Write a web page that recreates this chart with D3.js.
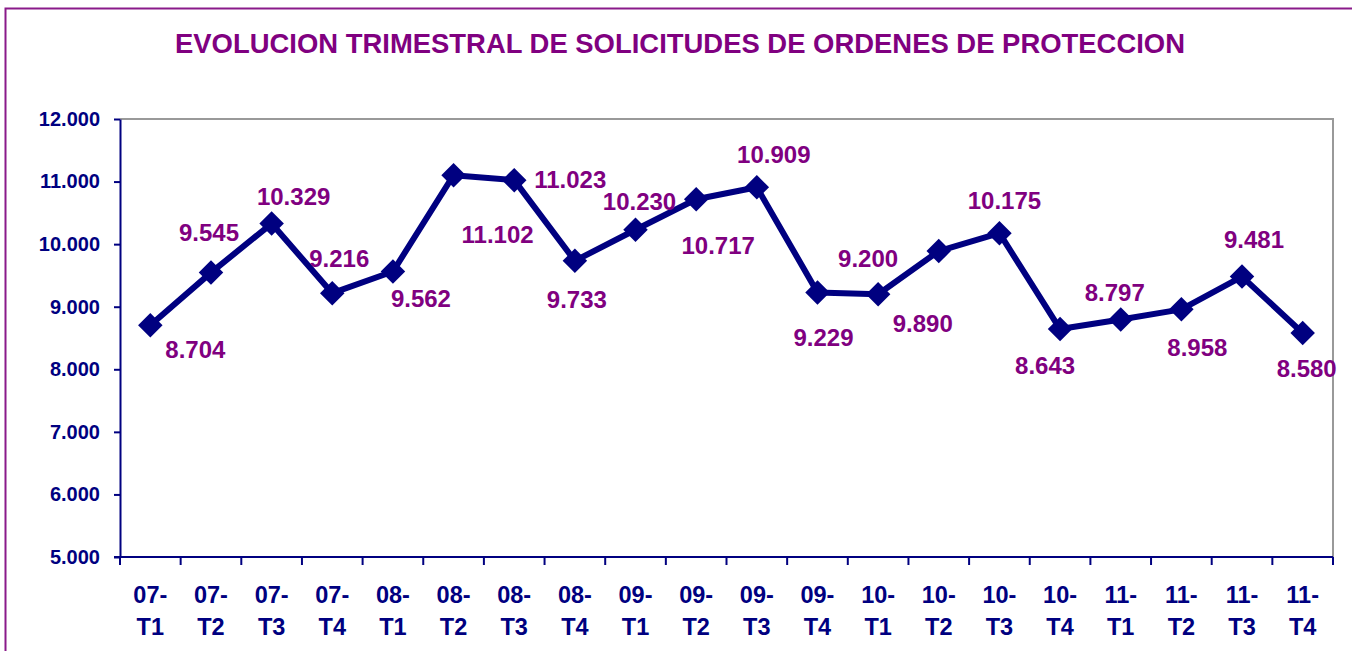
<!DOCTYPE html>
<html>
<head>
<meta charset="utf-8">
<script src="https://cdn.jsdelivr.net/npm/d3@7"></script>
<style>
  html, body { margin: 0; padding: 0; background: #ffffff; }
  svg { display: block; font-family: "Liberation Sans", Arial, sans-serif; }
</style>
</head>
<body>
<svg id="chart" width="1352" height="651"></svg>
<script>
// ---- data ----
const title = "EVOLUCION TRIMESTRAL DE SOLICITUDES DE ORDENES DE PROTECCION";
const yearLabels = ["07-","07-","07-","07-","08-","08-","08-","08-","09-","09-","09-","09-","10-","10-","10-","10-","11-","11-","11-","11-"];
const quarterLabels = ["T1","T2","T3","T4","T1","T2","T3","T4","T1","T2","T3","T4","T1","T2","T3","T4","T1","T2","T3","T4"];
const categories = yearLabels.map((y, i) => y + quarterLabels[i]);
const values = [8704, 9545, 10329, 9216, 9562, 11102, 11023, 9733, 10230, 10717, 10909, 9229, 9200, 9890, 10175, 8643, 8797, 8958, 9481, 8580];
const yTicks = [5000, 6000, 7000, 8000, 9000, 10000, 11000, 12000];

// ---- layout (label placement offsets, px, as in the original chart) ----
const labelDx = [45, -2, 22, 7, 28, 44, 56, 2, 4, 22, 17, 6, -10, -16, 5, -15, -6, 16, 12, 4];
const labelDy = [33, -32, -19, -26, 35, 68, 8, 47, -20, 55, -24, 54, -27, 81, -24, 45, -18, 47, -29, 44];

const navy = "#000080";
const purple = "#800080";
const svg = d3.select("#chart");

// outer border (extends beyond the visible page)
svg.append("rect")
  .attr("x", 5.5).attr("y", 8.5).attr("width", 1400).attr("height", 700)
  .attr("fill", "none").attr("stroke", "#8a1a8a").attr("stroke-width", 2);

// title
svg.append("text")
  .attr("x", 680).attr("y", 53)
  .attr("text-anchor", "middle")
  .attr("font-size", 28).attr("font-weight", "bold")
  .attr("fill", purple)
  .attr("textLength", 1010).attr("lengthAdjust", "spacingAndGlyphs")
  .text(title);

const pLeft = 120, pRight = 1333, pTop = 119, pBottom = 557;

const x = d3.scaleBand().domain(categories).range([pLeft, pRight]).padding(0);
const y = d3.scaleLinear().domain([5000, 12000]).range([pBottom, pTop]);

const loc = d3.formatLocale({ decimal: ",", thousands: ".", grouping: [3], currency: ["", ""] });
const fmt = loc.format(",");

// plot area border (top and right, gray)
svg.append("path")
  .attr("d", `M${pLeft},${pTop}H${pRight}V${pBottom}`)
  .attr("fill", "none").attr("stroke", "#999999").attr("stroke-width", 2);

// y axis
const yAxis = svg.append("g")
  .attr("transform", `translate(${pLeft},0)`)
  .call(d3.axisLeft(y).tickValues(yTicks).tickFormat(fmt).tickSize(6).tickPadding(14).tickSizeOuter(0));
yAxis.select(".domain").attr("stroke", navy).attr("stroke-width", 2);
yAxis.selectAll(".tick line").attr("stroke", navy).attr("stroke-width", 2);
yAxis.selectAll(".tick text")
  .attr("fill", navy).attr("font-size", 20).attr("font-weight", "bold")
  .attr("font-family", "'Liberation Sans', Arial, sans-serif");

// x axis: domain line + ticks at category boundaries
const xAxis = svg.append("g").attr("transform", `translate(0,${pBottom})`);
xAxis.append("line")
  .attr("x1", pLeft - 6).attr("x2", pRight).attr("y1", 0).attr("y2", 0)
  .attr("stroke", navy).attr("stroke-width", 2);
const boundaries = categories.map(c => x(c)).concat([x(categories[categories.length - 1]) + x.bandwidth()]);
xAxis.selectAll("line.tk").data(boundaries).enter().append("line")
  .attr("class", "tk")
  .attr("x1", d => d).attr("x2", d => d).attr("y1", 0).attr("y2", 8)
  .attr("stroke", navy).attr("stroke-width", 2);
const xl = xAxis.selectAll("text.xl").data(categories).enter().append("text")
  .attr("class", "xl")
  .attr("x", d => x(d) + x.bandwidth() / 2)
  .attr("y", 46)
  .attr("text-anchor", "middle")
  .attr("font-size", 23.5).attr("font-weight", "bold").attr("fill", navy);
xl.append("tspan").attr("x", d => x(d) + x.bandwidth() / 2).attr("dy", 0).text((d, i) => yearLabels[i]);
xl.append("tspan").attr("x", d => x(d) + x.bandwidth() / 2).attr("dy", 32).text((d, i) => quarterLabels[i]);

// line
const cx = (d, i) => x(categories[i]) + x.bandwidth() / 2;
const line = d3.line().x((d, i) => cx(d, i)).y(d => y(d));
svg.append("path")
  .datum(values)
  .attr("d", line)
  .attr("fill", "none").attr("stroke", navy).attr("stroke-width", 6)
  .attr("stroke-linejoin", "round");

// diamond markers
svg.selectAll("path.mk").data(values).enter().append("path")
  .attr("class", "mk")
  .attr("d", d3.symbol().type(d3.symbolSquare).size(300))
  .attr("transform", (d, i) => `translate(${cx(d, i)},${y(d)}) rotate(45)`)
  .attr("fill", navy);

// data labels
svg.selectAll("text.dl").data(values).enter().append("text")
  .attr("class", "dl")
  .attr("x", (d, i) => cx(d, i) + labelDx[i])
  .attr("y", (d, i) => y(d) + labelDy[i])
  .attr("text-anchor", "middle")
  .attr("font-size", 24).attr("font-weight", "bold").attr("fill", purple)
  .text(d => fmt(d));
</script>
</body>
</html>
